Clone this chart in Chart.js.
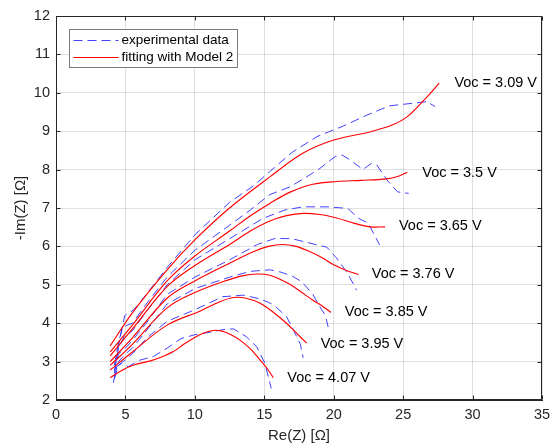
<!DOCTYPE html>
<html>
<head>
<meta charset="utf-8">
<script src="https://cdn.jsdelivr.net/npm/chart.js@4.4.1/dist/chart.umd.min.js"></script>
<style>
  html, body { margin: 0; padding: 0; background: #fff; }
  #wrap { width: 551px; height: 445px; }
</style>
</head>
<body>
<div id="wrap"><canvas id="nyquist" width="551" height="445"></canvas></div>
<script>
// ----- Data (Re(Z), -Im(Z)) in ohm -----

// fitted curves, Model 2
const fit309 = [[3.9,3.41],[5.5,4.27],[8,5.39],[10,6.17],[12.5,7.0],[15.4,7.81],[17.8,8.43],[20,8.77],[22.6,8.98],[24.2,9.16],[25.3,9.38],[26.5,9.81],[27.6,10.25]];
const fit350 = [[3.9,3.25],[5.5,3.95],[8,5.1],[10,5.75],[12.5,6.4],[14,6.8],[15.4,7.12],[16.9,7.42],[18.5,7.62],[20.2,7.69],[22,7.72],[23.8,7.76],[24.6,7.82],[25.3,7.93]];
const fit365 = [[3.9,3.15],[5.5,3.85],[8,4.95],[10,5.5],[12.5,6.05],[14,6.4],[15.4,6.66],[16.6,6.8],[17.8,6.86],[19,6.83],[20.2,6.74],[21.5,6.6],[22.6,6.51],[23.7,6.51]];
const fit376 = [[3.9,3.0],[5.5,3.62],[8,4.65],[10,5.1],[12.5,5.56],[14.2,5.86],[15.3,6.0],[16.3,6.05],[17.3,6.0],[18.3,5.86],[19.2,5.7],[20,5.52],[21,5.36],[21.8,5.27]];
const fit385 = [[3.9,2.9],[5.5,3.45],[8,4.4],[10,4.8],[12,5.08],[13.5,5.24],[14.5,5.28],[15.4,5.25],[16.2,5.13],[16.9,5.0],[17.7,4.8],[18.5,4.6],[19.2,4.44],[19.8,4.28]];
const fit395 = [[3.9,2.78],[5.5,3.25],[8,3.95],[10.4,4.32],[11.8,4.56],[12.8,4.67],[13.7,4.65],[14.7,4.52],[15.6,4.3],[16.6,4.0],[17.3,3.75],[18.05,3.48]];
const fit407 = [[3.9,2.58],[4.8,2.78],[5.6,2.91],[6.8,3.02],[7.6,3.12],[8.45,3.26],[9.2,3.45],[9.9,3.61],[10.6,3.74],[11.3,3.81],[11.9,3.8],[12.6,3.7],[13.25,3.56],[14,3.33],[14.7,3.04],[15.2,2.82],[15.65,2.58]];

// experimental data
const exp309 = [[4.3,2.95],[4.6,3.6],[4.95,4.2],[5.6,4.35],[6.5,4.75],[8,5.45],[10,6.3],[12.5,7.15],[14.2,7.57],[15.4,7.95],[17,8.45],[18.8,8.86],[20.6,9.12],[22.4,9.42],[24,9.66],[26,9.74],[26.7,9.77],[27.3,9.64]];
const exp350 = [[4.2,2.9],[4.5,3.5],[4.8,3.9],[5.5,4.0],[6.5,4.5],[8,5.2],[10,5.9],[12.5,6.55],[14,6.95],[15.4,7.35],[16.85,7.55],[18,7.8],[19,8.03],[20.1,8.34],[20.6,8.38],[21.2,8.25],[22.1,8.0],[22.7,8.16],[23.1,8.12],[23.9,7.7],[24.6,7.42],[25.4,7.38]];
const exp365 = [[4.2,2.75],[4.5,3.35],[4.9,3.65],[5.5,3.8],[6.5,4.3],[8,5.0],[10,5.65],[12.5,6.2],[14.9,6.73],[16.5,6.95],[17.8,7.03],[19.6,7.03],[21,6.99],[21.8,6.73],[22.5,6.6],[23.3,6.04]];
const exp376 = [[4.2,2.7],[4.5,3.2],[5,3.35],[5.5,3.55],[6.5,4.0],[8,4.75],[10,5.2],[12.5,5.65],[14.5,6.05],[15.8,6.21],[17,6.2],[18.8,6.04],[19.5,5.98],[20.2,5.7],[21,5.3],[21.65,4.86]];
const exp385 = [[4.2,2.6],[4.5,3.0],[5,3.2],[5.5,3.35],[6.5,3.8],[8,4.5],[10,4.9],[12.5,5.2],[14,5.35],[15.4,5.39],[16.1,5.34],[17,5.23],[17.7,5.08],[18.5,4.75],[19,4.43],[19.4,4.2],[19.6,3.9]];
const exp395 = [[4.2,2.55],[4.5,2.9],[5,3.05],[5.5,3.2],[6.5,3.6],[8,4.05],[10,4.35],[12,4.69],[13.5,4.73],[14.5,4.65],[15.2,4.56],[15.7,4.47],[16.6,4.17],[17,3.9],[17.6,3.45],[17.8,3.1]];
const exp407 = [[4.13,2.45],[4.37,2.87],[4.7,2.95],[5.2,2.87],[6.05,3.04],[7,3.13],[8,3.35],[9,3.6],[10,3.7],[11.3,3.78],[12.3,3.85],[12.8,3.85],[13.7,3.65],[14.45,3.39],[15.05,2.95],[15.5,2.3]];

// curve annotations, anchored in data units
const vocLabels = ['Voc = 3.09 V', 'Voc = 3.5 V', 'Voc = 3.65 V', 'Voc = 3.76 V', 'Voc = 3.85 V', 'Voc = 3.95 V', 'Voc = 4.07 V'];
const vocX = [28.69, 26.38, 24.7, 22.74, 20.8, 19.06, 16.66];
const vocY = [10.26, 7.92, 6.53, 5.27, 4.28, 3.47, 2.58];

const legendLabels = ['experimental data', 'fitting with Model 2'];

// ----- Styling -----
const BLUE = 'rgba(45, 45, 255, 0.9)';
const RED = '#ff0000';
const INK = '#262626';
const FONT = "'Liberation Sans', Arial, Helvetica, sans-serif";
const DASH = [9, 5];

const toPts = arr => arr.map(([x, y]) => ({ x, y }));

const fits = [fit309, fit350, fit365, fit376, fit385, fit395, fit407];
const exps = [exp309, exp350, exp365, exp376, exp385, exp395, exp407];

const datasets = [
  ...exps.map(d => ({
    data: toPts(d),
    showLine: true,
    borderColor: BLUE,
    borderWidth: 1,
    borderDash: DASH,
    pointRadius: 0,
    tension: 0,
    order: 2,
  })),
  ...fits.map(d => ({
    data: toPts(d),
    showLine: true,
    borderColor: RED,
    borderWidth: 1.15,
    pointRadius: 0,
    tension: 0.35,
    order: 1,
  })),
];

// box, inward ticks, legend and annotations (MATLAB look)
const matlabFrame = {
  id: 'matlabFrame',
  afterDraw(chart) {
    const { ctx, chartArea: a, scales: { x, y } } = chart;
    const L = Math.round(a.left) + 0.5, R = Math.round(a.right) - 0.5;
    const T = Math.round(a.top) + 0.5, B = Math.round(a.bottom) - 0.5;
    ctx.save();

    // inward ticks
    ctx.strokeStyle = INK;
    ctx.lineWidth = 1;
    ctx.beginPath();
    x.ticks.forEach(t => {
      const p = Math.round(x.getPixelForValue(t.value)) + 0.5;
      ctx.moveTo(p, B); ctx.lineTo(p, B - 4);
      ctx.moveTo(p, T); ctx.lineTo(p, T + 4);
    });
    y.ticks.forEach(t => {
      const p = Math.round(y.getPixelForValue(t.value)) + 0.5;
      ctx.moveTo(L, p); ctx.lineTo(L + 4, p);
      ctx.moveTo(R, p); ctx.lineTo(R - 4, p);
    });
    ctx.stroke();
    ctx.strokeRect(L, T, R - L, B - T);

    // annotations
    ctx.fillStyle = '#000';
    ctx.font = '14.5px ' + FONT;
    ctx.textAlign = 'left';
    ctx.textBaseline = 'middle';
    vocLabels.forEach((s, i) => {
      ctx.fillText(s, x.getPixelForValue(vocX[i]), y.getPixelForValue(vocY[i]));
    });

    // legend
    const lx = L + 13, ly = T + 13, lw = 168, lh = 38;
    ctx.fillStyle = '#fff';
    ctx.fillRect(lx, ly, lw, lh);
    ctx.strokeStyle = '#7a7a7a';
    ctx.strokeRect(lx, ly, lw, lh);
    const rows = [ly + 11, ly + 28];
    ctx.lineWidth = 1;
    ctx.strokeStyle = BLUE;
    ctx.setLineDash(DASH);
    ctx.beginPath(); ctx.moveTo(lx + 4, rows[0]); ctx.lineTo(lx + 49, rows[0]); ctx.stroke();
    ctx.setLineDash([]);
    ctx.strokeStyle = RED;
    ctx.lineWidth = 1.15;
    ctx.beginPath(); ctx.moveTo(lx + 4, rows[1]); ctx.lineTo(lx + 49, rows[1]); ctx.stroke();
    ctx.fillStyle = '#000';
    ctx.font = '13.5px ' + FONT;
    legendLabels.forEach((s, i) => ctx.fillText(s, lx + 52, rows[i]));

    ctx.restore();
  },
};

new Chart(document.getElementById('nyquist'), {
  type: 'scatter',
  data: { datasets },
  options: {
    responsive: false,
    animation: false,
    devicePixelRatio: 1,
    layout: { padding: { top: 16, right: 9, left: 0, bottom: 0 } },
    plugins: {
      legend: { display: false },
      tooltip: { enabled: false },
    },
    scales: {
      x: {
        type: 'linear',
        min: 0, max: 35,
        ticks: { stepSize: 5, color: INK, font: { family: FONT, size: 14.5 }, padding: 6 },
        grid: { color: 'rgba(0,0,0,0.12)', drawTicks: false },
        border: { display: true, color: INK },
        title: { display: true, text: 'Re(Z) [Ω]', color: INK, font: { family: FONT, size: 15 }, padding: { top: 0, bottom: 0 } },
        afterFit: s => { s.height = 45; s.paddingLeft = 0; s.paddingRight = 0; },
      },
      y: {
        type: 'linear',
        min: 2, max: 12,
        ticks: { stepSize: 1, color: INK, font: { family: FONT, size: 14.5 }, padding: 6 },
        grid: { color: 'rgba(0,0,0,0.12)', drawTicks: false },
        border: { display: true, color: INK },
        title: { display: true, text: '-Im(Z) [Ω]', color: INK, font: { family: FONT, size: 15 }, padding: { top: 12, bottom: 0 } },
        afterFit: s => { s.width = 56; s.paddingTop = 0; s.paddingBottom = 0; },
      },
    },
  },
  plugins: [matlabFrame],
});
</script>
</body>
</html>
